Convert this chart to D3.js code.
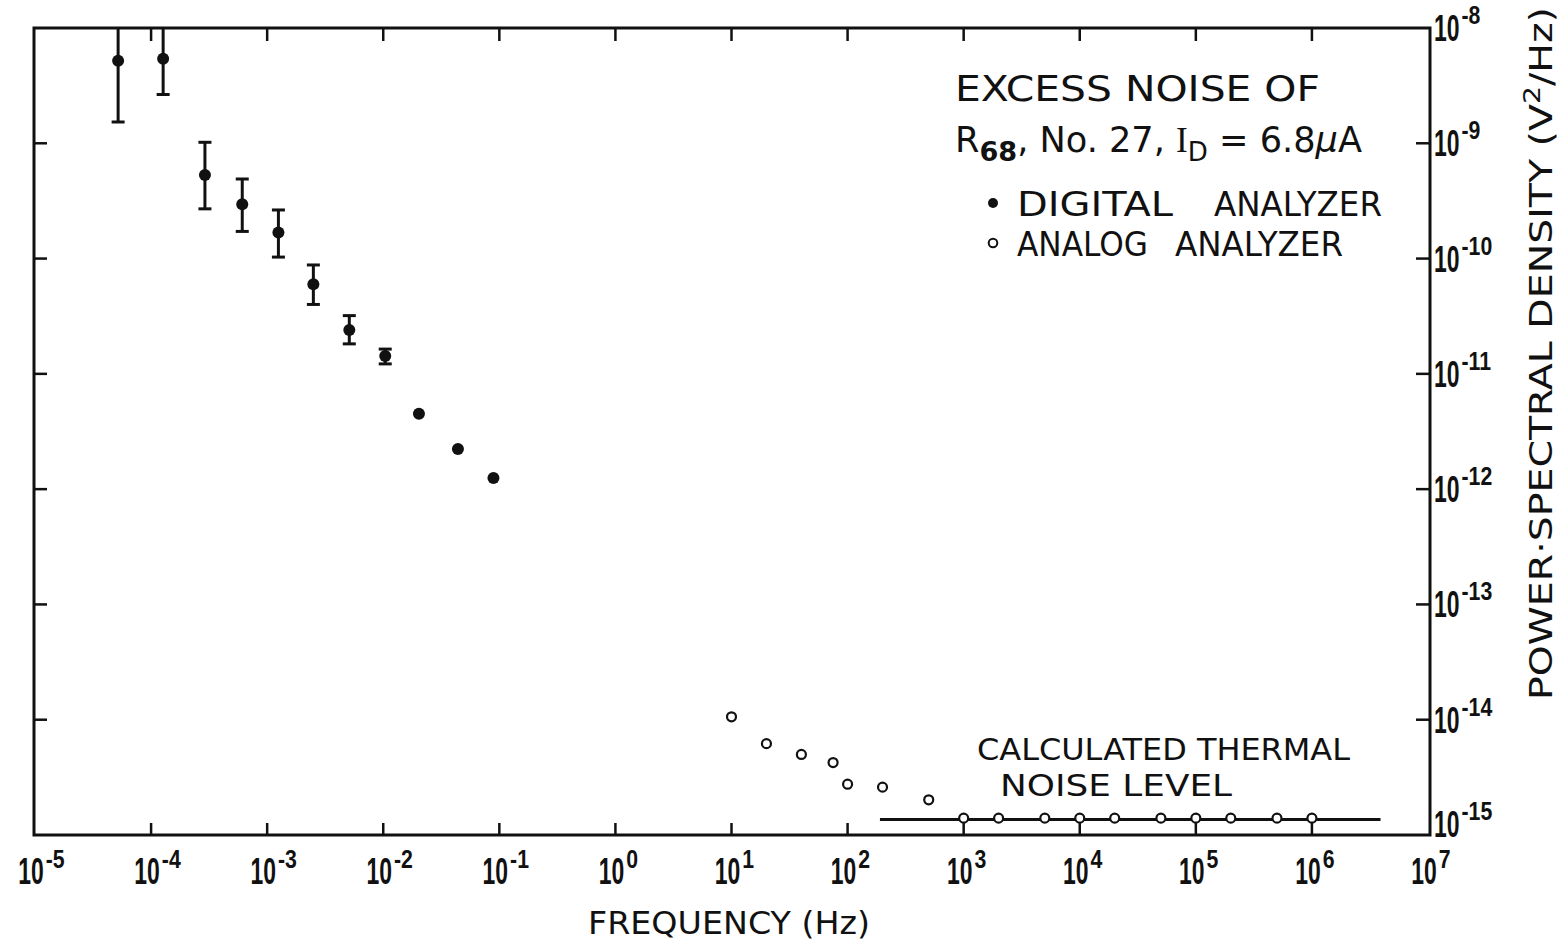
<!DOCTYPE html>
<html>
<head>
<meta charset="utf-8">
<script src="https://cdn.jsdelivr.net/npm/d3@7"></script>
<style>
  html, body { margin: 0; padding: 0; background: #fff; }
  svg { display: block; }
  text { font-family: "DejaVu Sans", "Liberation Sans", sans-serif; fill: #111; }
  .num { font-family: "Liberation Sans", Arial, sans-serif; font-weight: bold; }
</style>
</head>
<body>
<svg id="chart" width="1560" height="943"></svg>
<script>
// Digital analyzer estimates (frequency in Hz, PSD in V^2/Hz) with error limits
const digitalFreq = [5.2e-5, 1.27e-4, 2.91e-4, 6.1e-4, 1.25e-3, 2.5e-3, 5.1e-3, 1.04e-2, 2.03e-2, 4.4e-2, 8.9e-2];
const digitalPSD  = [5.2e-9, 5.4e-9, 5.3e-10, 2.96e-10, 1.68e-10, 6.0e-11, 2.4e-11, 1.43e-11, 4.5e-12, 2.23e-12, 1.25e-12];
const digitalLow  = [1.53e-9, 2.65e-9, 2.7e-10, 1.72e-10, 1.03e-10, 4.0e-11, 1.82e-11, 1.22e-11, null, null, null];
const digitalHigh = [2.0e-8, 2.0e-8, 1.02e-9, 4.9e-10, 2.64e-10, 8.8e-11, 3.2e-11, 1.64e-11, null, null, null];

// Analog analyzer readings
const analogFreq = [10, 20, 40, 75, 100, 200, 500, 1e3, 2e3, 5e3, 1e4, 2e4, 5e4, 1e5, 2e5, 5e5, 1e6];
const analogPSD  = [1.06e-14, 6.2e-15, 5.0e-15, 4.25e-15, 2.76e-15, 2.6e-15, 2.02e-15,
                    1.4e-15, 1.4e-15, 1.4e-15, 1.4e-15, 1.4e-15, 1.4e-15, 1.4e-15, 1.4e-15, 1.4e-15, 1.4e-15];

// Calculated thermal noise level and the band it is drawn over
const thermalLevel = 1.36e-15;
const thermalBand  = [190, 3.9e6];

// Decade ticks (exponents of ten)
const xTickExponents = d3.range(-5, 8);
const yTickExponents = d3.range(-15, -7);

const svg = d3.select("#chart");
const frame = { left: 34, right: 1430, top: 28, bottom: 835 };

const x = d3.scaleLog().domain([1e-5, 1e7]).range([35, 1428]);
const y = d3.scaleLog().domain([1e-15, 1e-8]).range([frame.bottom, frame.top]);

const ink = "#111";

// Clip for marks that run off the frame
svg.append("clipPath").attr("id", "plotClip")
  .append("rect").attr("x", frame.left).attr("y", frame.top)
  .attr("width", frame.right - frame.left).attr("height", frame.bottom - frame.top);

// Frame
svg.append("rect")
  .attr("x", frame.left).attr("y", frame.top)
  .attr("width", frame.right - frame.left).attr("height", frame.bottom - frame.top)
  .attr("fill", "none").attr("stroke", ink).attr("stroke-width", 3);

// Inward decade ticks on all four sides
const tickG = svg.append("g").attr("stroke", ink).attr("stroke-width", 2.5);
xTickExponents.slice(1, -1).forEach(e => {
  const px = x(Math.pow(10, e));
  tickG.append("line").attr("x1", px).attr("x2", px).attr("y1", frame.bottom).attr("y2", frame.bottom - 12);
  tickG.append("line").attr("x1", px).attr("x2", px).attr("y1", frame.top).attr("y2", frame.top + 13);
});
yTickExponents.slice(1, -1).forEach(e => {
  const py = y(Math.pow(10, e));
  tickG.append("line").attr("x1", frame.left).attr("x2", frame.left + 13).attr("y1", py).attr("y2", py);
  tickG.append("line").attr("x1", frame.right).attr("x2", frame.right - 14).attr("y1", py).attr("y2", py);
});

// "10" in narrow lettering followed by a raised exponent.
// g is placed at the baseline-left of the "10"; returns the drawn width of "10".
const baseSqueeze = 0.62;
function powerLabel(g, exp, rise) {
  const base = g.append("g").attr("transform", `scale(${baseSqueeze},1)`)
    .append("text").attr("class", "num").attr("font-size", 37).text("10");
  const w = base.node().getComputedTextLength() * baseSqueeze;
  g.append("g").attr("transform", `translate(${w + 2},${-rise}) scale(0.85,1)`)
    .append("text").attr("class", "num").attr("font-size", 25).text(String(exp));
  return w;
}

// Bottom frequency labels: the "10" sits just left of centre on its tick
xTickExponents.forEach(e => {
  const g = svg.append("g");
  const w = powerLabel(g, e, 16);
  g.attr("transform", `translate(${x(Math.pow(10, e)) - w / 2 - 4},884)`);
});

// Right-hand PSD labels
yTickExponents.forEach(e => {
  const base = Math.min(y(Math.pow(10, e)) + 13, frame.bottom + 2);
  const g = svg.append("g").attr("transform", `translate(1434,${base})`);
  powerLabel(g, e, 17);
});

// Thermal noise line
svg.append("line")
  .attr("x1", x(thermalBand[0])).attr("x2", x(thermalBand[1]))
  .attr("y1", y(thermalLevel)).attr("y2", y(thermalLevel))
  .attr("stroke", ink).attr("stroke-width", 3);

// Error bars of the digital analyzer
const digital = digitalFreq.map((f, i) => ({ f, v: digitalPSD[i], lo: digitalLow[i], hi: digitalHigh[i] }));
const errG = svg.append("g").attr("clip-path", "url(#plotClip)")
  .attr("stroke", ink).attr("stroke-width", 3);
digital.filter(d => d.lo !== null).forEach(d => {
  const px = x(d.f);
  errG.append("line").attr("x1", px).attr("x2", px).attr("y1", y(d.lo)).attr("y2", y(d.hi));
  [d.lo, d.hi].forEach(v => {
    if (v <= 1e-8) {
      errG.append("line").attr("x1", px - 6.5).attr("x2", px + 6.5).attr("y1", y(v)).attr("y2", y(v));
    }
  });
});

// Digital points (filled)
svg.append("g").selectAll("circle").data(digital).join("circle")
  .attr("cx", d => x(d.f)).attr("cy", d => y(d.v)).attr("r", 6).attr("fill", ink);

// Analog points (open)
const analog = analogFreq.map((f, i) => ({ f, v: analogPSD[i] }));
svg.append("g").selectAll("circle").data(analog).join("circle")
  .attr("cx", d => x(d.f)).attr("cy", d => y(d.v)).attr("r", 4.5)
  .attr("fill", "#fff").attr("stroke", ink).attr("stroke-width", 2.2);

// Title block
svg.append("text").attr("x", 955).attr("y", 101).attr("font-size", 35)
  .attr("textLength", 365).attr("lengthAdjust", "spacingAndGlyphs").text("EXCESS NOISE OF");

const t2 = svg.append("text").attr("x", 955).attr("y", 152).attr("font-size", 35)
  .attr("textLength", 407).attr("lengthAdjust", "spacingAndGlyphs");
t2.append("tspan").text("R");
t2.append("tspan").attr("font-size", 27).attr("dy", 9).attr("font-weight", "bold").text("68");
t2.append("tspan").attr("dy", -9).text(", No. 27, ");
t2.append("tspan").attr("font-family", "Liberation Serif, serif").text("I");
t2.append("tspan").attr("font-size", 26).attr("dy", 9).text("D");
t2.append("tspan").attr("dy", -9).text(" = 6.8");
t2.append("tspan").attr("font-style", "italic").text("μ");
t2.append("tspan").text("A");

// Legend
svg.append("circle").attr("cx", 993).attr("cy", 203).attr("r", 5).attr("fill", ink);
svg.append("text").attr("x", 1017).attr("y", 216).attr("font-size", 34)
  .attr("textLength", 156).attr("lengthAdjust", "spacingAndGlyphs").text("DIGITAL");
svg.append("text").attr("x", 1214).attr("y", 216).attr("font-size", 34)
  .attr("textLength", 168).attr("lengthAdjust", "spacingAndGlyphs").text("ANALYZER");
svg.append("circle").attr("cx", 993).attr("cy", 243).attr("r", 4.3)
  .attr("fill", "#fff").attr("stroke", ink).attr("stroke-width", 2);
svg.append("text").attr("x", 1017).attr("y", 256).attr("font-size", 34)
  .attr("textLength", 131).attr("lengthAdjust", "spacingAndGlyphs").text("ANALOG");
svg.append("text").attr("x", 1175).attr("y", 256).attr("font-size", 34)
  .attr("textLength", 168).attr("lengthAdjust", "spacingAndGlyphs").text("ANALYZER");

// Thermal level annotation
svg.append("text").attr("x", 977).attr("y", 760).attr("font-size", 31)
  .attr("textLength", 373).attr("lengthAdjust", "spacingAndGlyphs").text("CALCULATED THERMAL");
svg.append("text").attr("x", 1000).attr("y", 796).attr("font-size", 31)
  .attr("textLength", 232).attr("lengthAdjust", "spacingAndGlyphs").text("NOISE LEVEL");

// Axis titles
svg.append("text").attr("x", 588).attr("y", 934).attr("font-size", 32)
  .attr("textLength", 282).attr("lengthAdjust", "spacingAndGlyphs").text("FREQUENCY (Hz)");

const yt = svg.append("text")
  .attr("transform", "translate(1552,700) rotate(-90)")
  .attr("font-size", 32).attr("textLength", 693).attr("lengthAdjust", "spacingAndGlyphs");
yt.append("tspan").text("POWER·SPECTRAL DENSITY (V");
yt.append("tspan").attr("font-size", 23).attr("dy", -12).text("2");
yt.append("tspan").attr("dy", 12).text("/Hz)");
</script>
</body>
</html>
